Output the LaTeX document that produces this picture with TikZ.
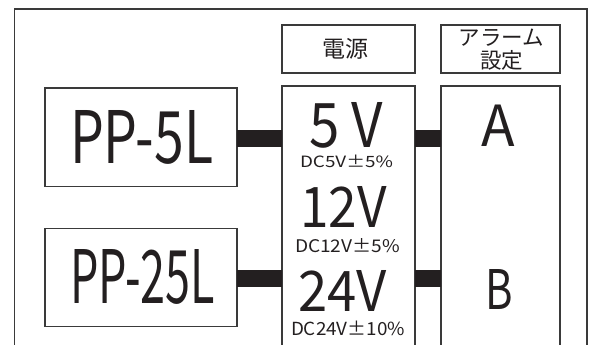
\documentclass[tikz,border=0pt]{standalone}
\usepackage{fontspec}
\setmainfont{Noto Sans CJK JP}
\usepackage{graphicx}
\definecolor{ink}{HTML}{231F20}
\definecolor{edge}{HTML}{3A3A3A}
\newcommand\fitto[3]{\resizebox{#1pt}{#2pt}{#3}}
\newcommand\pmw{{\addfontfeature{CharacterWidth=Full}±}}
\begin{document}
\begin{tikzpicture}[x=1pt,y=-1pt,
  box/.style={draw=edge,line width=1.3pt,inner sep=0pt,outer sep=0pt,rectangle},
  lbl/.style={inner sep=0pt,outer sep=0pt,text=ink,anchor=base west},
  jp/.style={inner sep=0pt,text=ink,align=center},
  bar/.style={draw=ink,line width=17.3pt,line cap=butt},
  frameline/.style={draw=edge,line width=1.3pt}]
\useasboundingbox (0,0) rectangle (590,345);
% outer frame (open at bottom)
\coordinate (fbl) at (14.7,350);
\coordinate (fbr) at (587,350);
\draw[frameline] (fbl) |- (587,9) -- (fbr);
% boxes
\node[box,minimum width=192pt,minimum height=98.5pt] (pp5) at (141,137.4) {};
\node[box,minimum width=192pt,minimum height=98pt] (pp25) at (141,277.7) {};
\node[box,minimum width=133pt,minimum height=48pt] (hp) at (348.5,49) {};
\node[box,minimum width=119pt,minimum height=48pt] (ha) at (500.5,49) {};
\node[box,minimum width=133pt,minimum height=274pt] (pw) at (348.5,223) {};
\node[box,minimum width=119pt,minimum height=274pt] (al) at (500.5,223) {};
% header texts
\node[jp,font=\fontsize{23}{23}\selectfont] (thp) at (345,48.5) {電源};
\node[jp,font=\fontsize{21.5}{23}\selectfont] (tha) at (501.5,49.5) {アラーム\\設定};
% large labels
\node[lbl] (tpp5) at (70,163.3) {\fitto{143}{53}{PP-5L}};
\node[lbl] (tpp25) at (70,303.3) {\fitto{145}{54}{PP-25L}};
\node[lbl] (t5) at (309,147) {\fitto{74}{45}{5 V}};
\node[lbl] (t5s) at (300,167.5) {\fitto{93}{12.5}{DC5V\pmw5\%}};
\node[lbl] (t12) at (300,227.5) {\fitto{86.5}{41}{12V}};
\node[lbl] (t12s) at (295,252.7) {\fitto{105}{14}{DC12V\pmw5\%}};
\node[lbl] (t24) at (298,311) {\fitto{88.5}{41}{24V}};
\node[lbl] (t24s) at (291,335) {\fitto{114}{14.5}{DC24V\pmw10\%}};
\node[lbl] (tA) at (481.7,147) {\fitto{33.5}{41.5}{A}};
\node[lbl] (tB) at (485,309) {\fitto{27.5}{40}{B}};
% connector bars
\coordinate (ya) at (0,138.7);
\coordinate (yb) at (0,278.5);
\draw[bar] (pp5.east |- ya) -- (pw.west |- ya);
\draw[bar] (pp25.east |- yb) -- (pw.west |- yb);
\draw[bar] (pw.east |- ya) -- (al.west |- ya);
\draw[bar] (pw.east |- yb) -- (al.west |- yb);
\end{tikzpicture}
\end{document}
